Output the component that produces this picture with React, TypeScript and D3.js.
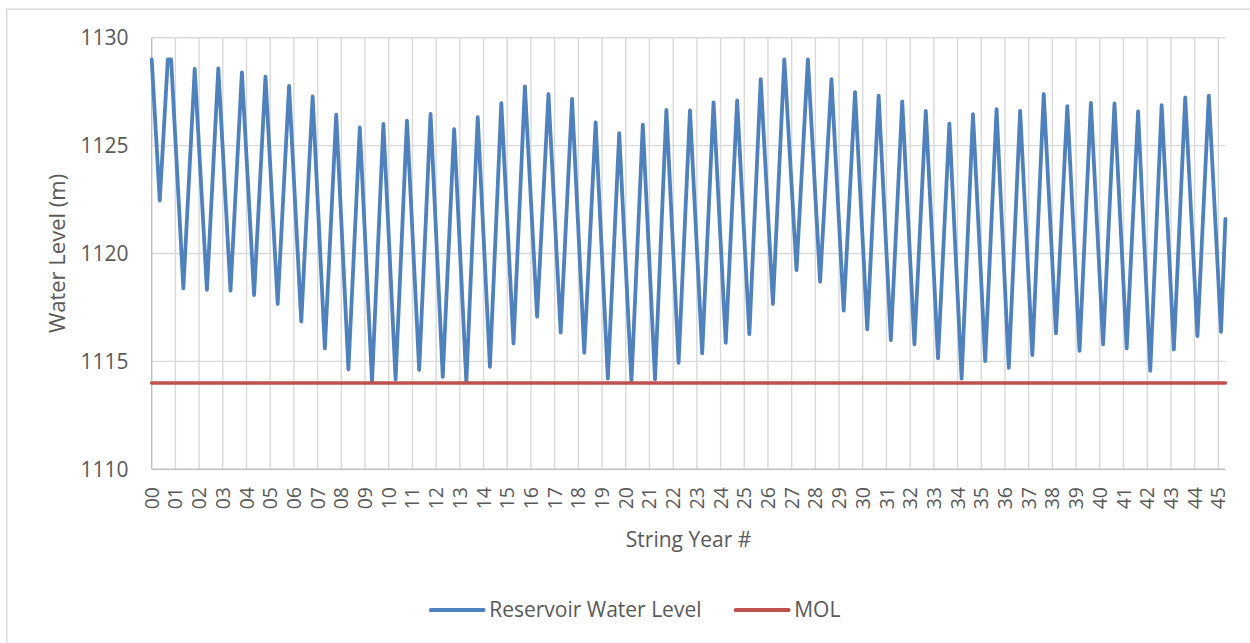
import React, { useRef, useEffect } from "react";
import * as d3 from "d3";

// x tick labels (string years)
const yearLabels = [
  "00", "01", "02", "03", "04", "05", "06", "07", "08", "09",
  "10", "11", "12", "13", "14", "15", "16", "17", "18", "19",
  "20", "21", "22", "23", "24", "25", "26", "27", "28", "29",
  "30", "31", "32", "33", "34", "35", "36", "37", "38", "39",
  "40", "41", "42", "43", "44", "45",
];

const yTicks = [1110, 1115, 1120, 1125, 1130];

// yearly high points of the reservoir (one per year, late in the year)
const peakLevels = [
  1129.0, 1128.55, 1128.58, 1128.39, 1128.2, 1127.77, 1127.28, 1126.43, 1125.84, 1126.0,
  1126.16, 1126.47, 1125.76, 1126.32, 1126.97, 1127.74, 1127.39, 1127.16, 1126.07, 1125.58,
  1125.97, 1126.66, 1126.63, 1127.0, 1127.09, 1128.08, 1129.0, 1129.0, 1128.08, 1127.48,
  1127.32, 1127.05, 1126.61, 1126.02, 1126.46, 1126.69, 1126.61, 1127.39, 1126.83, 1126.98,
  1126.95, 1126.58, 1126.88, 1127.23, 1127.32,
];

// yearly low points (drawdown)
const troughLevels = [
  1122.45, 1118.38, 1118.31, 1118.28, 1118.07, 1117.66, 1116.84, 1115.6, 1114.63, 1114.05,
  1114.16, 1114.6, 1114.28, 1114.05, 1114.75, 1115.83, 1117.07, 1116.33, 1115.4, 1114.2,
  1114.05, 1114.16, 1114.93, 1115.37, 1115.86, 1116.26, 1117.66, 1119.23, 1118.69, 1117.35,
  1116.48, 1115.99, 1115.79, 1115.14, 1114.2, 1115.01, 1114.7, 1115.29, 1116.3, 1115.49,
  1115.79, 1115.6, 1114.56, 1115.55, 1116.17, 1116.37,
];

const startLevel = 1129.0;
const endLevel = 1121.6;
const fullSupplyLevel = 1129.0;
const molLevel = 1114;

// timing of the yearly cycle (in string years)
const troughOffset = 0.34;
const peakOffset = 0.82;
const plateauStart = 0.68;
const cycleLength = 0.995;
const endYear = 45.3;

const FONT = "'Open Sans', sans-serif";
const TEXT = "#595959";
const BLUE = "#4F81BD";
const RED = "#C0504D";

type Pt = { t: number; v: number };

function buildSeries(): Pt[] {
  const pts: Pt[] = [{ t: 0, v: startLevel }];
  troughLevels.forEach((v, j) => {
    pts.push({ t: troughOffset + j * cycleLength, v });
    if (j < peakLevels.length) {
      if (j === 0) pts.push({ t: plateauStart, v: fullSupplyLevel });
      pts.push({ t: peakOffset + j * cycleLength, v: peakLevels[j] });
    }
  });
  pts.push({ t: endYear, v: endLevel });
  return pts;
}

export default function App() {
  const ref = useRef<SVGSVGElement>(null);
  const width = 1250;
  const height = 643;

  useEffect(() => {
    const svg = d3.select(ref.current);
    svg.selectAll("*").remove();

    const x0 = 151.7, x45 = 1218.3;
    const top = 37.7, bottom = 469.3;

    const x = d3.scaleLinear().domain([0, 45]).range([x0, x45]);
    const y = d3.scaleLinear().domain([1110, 1130]).range([bottom, top]);
    const right = x(endYear);

    svg.append("rect")
      .attr("width", width).attr("height", height).attr("fill", "#fff");

    // chart area border
    svg.append("rect")
      .attr("x", 6.75).attr("y", 9.25)
      .attr("width", 1400).attr("height", 800)
      .attr("fill", "none").attr("stroke", "#D9D9D9").attr("stroke-width", 1.5);

    const grid = svg.append("g").attr("stroke", "#D9D9D9").attr("stroke-width", 1.4);
    yTicks.filter(d => d !== 1110).forEach(d => {
      grid.append("line")
        .attr("x1", x0).attr("x2", right)
        .attr("y1", y(d)).attr("y2", y(d));
    });
    yearLabels.forEach((_, i) => {
      if (i === 0) return;
      grid.append("line")
        .attr("x1", x(i)).attr("x2", x(i))
        .attr("y1", top).attr("y2", bottom);
    });

    // axis lines
    svg.append("line")
      .attr("x1", x0).attr("x2", x0).attr("y1", top).attr("y2", bottom)
      .attr("stroke", "#BFBFBF").attr("stroke-width", 1.4);
    svg.append("line")
      .attr("x1", x0).attr("x2", right).attr("y1", bottom).attr("y2", bottom)
      .attr("stroke", "#BFBFBF").attr("stroke-width", 1.4);

    // y tick labels
    svg.append("g").selectAll("text").data(yTicks).join("text")
      .attr("x", 128.5).attr("y", d => y(d))
      .attr("dy", "0.36em")
      .attr("text-anchor", "end")
      .attr("font-family", FONT).attr("font-size", 21).attr("fill", TEXT)
      .text(d => d);

    // x tick labels (rotated)
    svg.append("g").selectAll("text").data(yearLabels).join("text")
      .attr("transform", (_, i) => `translate(${x(i)},487) rotate(-90)`)
      .attr("dy", "0.36em")
      .attr("text-anchor", "end")
      .attr("font-family", FONT).attr("font-size", 19.5).attr("fill", TEXT)
      .text(d => d);

    // axis titles
    svg.append("text")
      .attr("transform", `translate(65,${(top + bottom) / 2}) rotate(-90)`)
      .attr("text-anchor", "middle")
      .attr("font-family", FONT).attr("font-size", 22).attr("fill", TEXT)
      .text("Water Level (m)");

    svg.append("text")
      .attr("x", (x0 + right) / 2).attr("y", 546.7)
      .attr("text-anchor", "middle")
      .attr("font-family", FONT).attr("font-size", 21).attr("fill", TEXT)
      .text("String Year #");

    // series
    const series = buildSeries();
    const line = d3.line<Pt>().x(d => x(d.t)).y(d => y(d.v));

    svg.append("path")
      .datum(series)
      .attr("fill", "none")
      .attr("stroke", BLUE)
      .attr("stroke-width", 3.8)
      .attr("stroke-linejoin", "round")
      .attr("stroke-linecap", "round")
      .attr("d", line);

    svg.append("line")
      .attr("x1", x(0)).attr("x2", right)
      .attr("y1", y(molLevel)).attr("y2", y(molLevel))
      .attr("stroke", RED).attr("stroke-width", 3.6)
      .attr("stroke-linecap", "round");

    // legend
    const legend = [
      { name: "Reservoir Water Level", color: BLUE, x: 430.7 },
      { name: "MOL", color: RED, x: 735.7 },
    ];
    const lg = svg.append("g");
    legend.forEach(l => {
      lg.append("line")
        .attr("x1", l.x).attr("x2", l.x + 53)
        .attr("y1", 610).attr("y2", 610)
        .attr("stroke", l.color).attr("stroke-width", 3.8)
        .attr("stroke-linecap", "round");
      lg.append("text")
        .attr("x", l.x + 58.5).attr("y", 616.7)
        .attr("font-family", FONT).attr("font-size", 21).attr("fill", TEXT)
        .text(l.name);
    });
  }, []);

  return (
    <svg
      ref={ref}
      width={width}
      height={height}
      style={{ position: "absolute", left: 0, top: 0, display: "block" }}
    />
  );
}
